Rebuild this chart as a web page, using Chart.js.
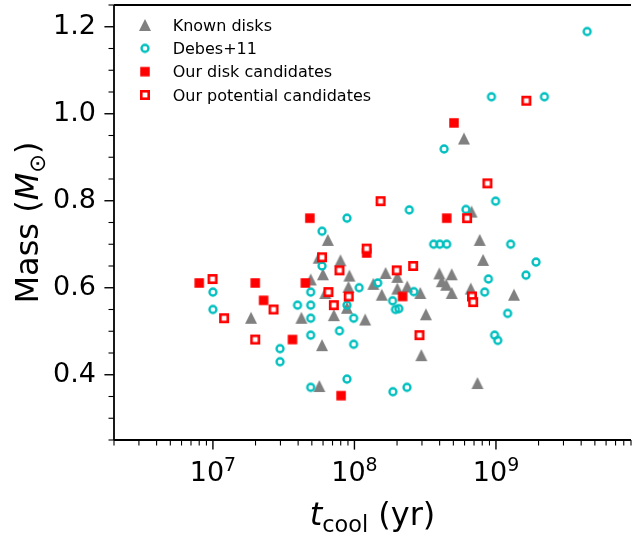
<!DOCTYPE html>
<html>
<head>
<meta charset="utf-8">
<script src="https://cdn.jsdelivr.net/npm/chart.js@4.4.1/dist/chart.umd.min.js"></script>
<style>
  html, body { margin: 0; padding: 0; background: #fff; overflow: hidden; }
  #wrap { width: 632px; height: 533px; overflow: hidden; }
</style>
</head>
<body>
<div id="wrap"><canvas id="massChart" width="636" height="533"></canvas></div>
<script>
// Cooling age (yr) and white dwarf mass (Msun)
const knownTcool = [1.86e7, 4.22e7, 4.91e7, 5.59e7, 5.99e7, 6.22e7, 5.90e7, 5.65e7, 6.49e7, 7.15e7,
  7.97e7, 9.21e7, 9.07e7, 8.86e7, 1.19e8, 1.36e8, 1.56e8, 1.66e8, 2.01e8, 2.01e8,
  2.36e8, 2.92e8, 3.20e8, 2.97e8, 3.98e8, 4.87e8, 4.14e8, 4.45e8, 4.87e8, 6.64e8,
  6.72e8, 7.68e8, 8.11e8, 5.94e8, 7.40e8, 1.34e9];
const knownMass = [0.531, 0.531, 0.619, 0.669, 0.631, 0.588, 0.468, 0.374, 0.710, 0.537,
  0.663, 0.628, 0.602, 0.554, 0.527, 0.609, 0.584, 0.634, 0.625, 0.598,
  0.603, 0.588, 0.539, 0.445, 0.633, 0.631, 0.615, 0.607, 0.588, 0.598,
  0.775, 0.710, 0.664, 0.943, 0.381, 0.584];

const debesTcool = [1.00e7, 1.00e7, 2.98e7, 2.98e7, 3.96e7, 4.91e7, 4.91e7, 4.91e7, 4.91e7, 4.91e7,
  5.90e7, 5.90e7, 7.84e7, 8.86e7, 8.86e7, 8.86e7, 9.87e7, 9.87e7, 1.08e8, 1.46e8,
  1.86e8, 1.95e8, 2.06e8, 1.87e8, 2.35e8, 2.44e8, 2.63e8, 3.63e8, 4.01e8, 4.49e8,
  4.30e8, 6.13e8, 9.94e8, 9.30e8, 2.20e9, 4.41e9, 1.27e9, 1.92e9, 1.63e9, 8.84e8,
  8.32e8, 1.21e9, 9.78e8, 1.03e9];
const debesMass = [0.590, 0.550, 0.460, 0.430, 0.560, 0.590, 0.560, 0.530, 0.491, 0.371,
  0.730, 0.650, 0.501, 0.760, 0.560, 0.390, 0.530, 0.470, 0.600, 0.611,
  0.570, 0.550, 0.552, 0.361, 0.371, 0.779, 0.591, 0.700, 0.700, 0.700,
  0.919, 0.780, 0.799, 1.039, 1.039, 1.189, 0.700, 0.659, 0.629, 0.620,
  0.590, 0.541, 0.491, 0.479];

const candTcool = [8.0e6, 1.99e7, 2.28e7, 3.65e7, 4.50e7, 4.84e7, 1.22e8, 8.05e7, 2.19e8, 4.49e8, 5.05e8];
const candMass = [0.611, 0.611, 0.571, 0.481, 0.611, 0.760, 0.680, 0.352, 0.580, 0.760, 0.979];

const potTcool = [9.94e6, 1.20e7, 1.99e7, 2.68e7, 5.90e7, 6.55e7, 7.15e7, 7.84e7, 9.11e7, 1.22e8,
  1.53e8, 1.99e8, 2.60e8, 2.88e8, 6.25e8, 6.77e8, 6.90e8, 8.70e8, 1.64e9];
const potMass = [0.620, 0.530, 0.481, 0.550, 0.670, 0.590, 0.560, 0.640, 0.580, 0.690,
  0.799, 0.640, 0.650, 0.491, 0.760, 0.580, 0.567, 0.840, 1.030];

// Axis ticks
const xMajorTicks = [1e7, 1e8, 1e9];
const xTickExponents = ["7", "8", "9"];
const yTicks = [0.4, 0.6, 0.8, 1.0, 1.2];
const yTickLabels = ["0.4", "0.6", "0.8", "1.0", "1.2"];

const FONT = '"DejaVu Sans", sans-serif';
const TICK_SIZE = 27;
const TITLE_SIZE = 32;
const MAJOR_LEN = 9.6;
const MINOR_LEN = 5.5;

// matplotlib-like marker glyphs, used for the points and the legend
function makeMarker(size, draw) {
  const c = document.createElement('canvas');
  c.width = size; c.height = size;
  draw(c.getContext('2d'), size / 2);
  return c;
}
const markers = {
  triangle: makeMarker(14, (g, m) => {
    const h = 6;
    g.fillStyle = '#808080';
    g.beginPath();
    g.moveTo(m, m - h); g.lineTo(m - h, m + h); g.lineTo(m + h, m + h);
    g.closePath(); g.fill();
  }),
  ring: makeMarker(12, (g, m) => {
    g.strokeStyle = '#00bfbf'; g.lineWidth = 2.3;
    g.beginPath(); g.arc(m, m, 3.5, 0, Math.PI * 2); g.stroke();
  }),
  square: makeMarker(12, (g, m) => {
    g.fillStyle = '#ff0000';
    g.fillRect(m - 4.75, m - 4.75, 9.5, 9.5);
  }),
  openSquare: makeMarker(12, (g, m) => {
    g.fillStyle = '#ffffff';
    g.fillRect(m - 3.7, m - 3.7, 7.4, 7.4);
    g.strokeStyle = '#ff0000'; g.lineWidth = 2.6;
    g.strokeRect(m - 3.7, m - 3.7, 7.4, 7.4);
  })
};

const toPoints = (xs, ys) => xs.map((v, i) => ({x: v, y: ys[i]}));

// ticks, spines, mathtext-style labels and the legend
const axesDecor = {
  id: 'axesDecor',
  afterDraw(chart) {
    const {ctx, chartArea: a, scales: {x, y}} = chart;
    ctx.save();
    ctx.strokeStyle = '#000';
    ctx.fillStyle = '#000';

    const seg = (x1, y1, x2, y2) => { ctx.beginPath(); ctx.moveTo(x1, y1); ctx.lineTo(x2, y2); ctx.stroke(); };

    // minor ticks
    ctx.lineWidth = 1.1;
    for (let e = 6; e <= 9; e++) {
      for (let d = 2; d <= 9; d++) {
        const v = d * Math.pow(10, e);
        if (v < x.min || v > x.max) continue;
        const p = x.getPixelForValue(v);
        seg(p, a.bottom, p, a.bottom + MINOR_LEN);
      }
    }
    for (let i = 5; i <= 25; i++) {
      if (i % 4 === 0) continue;
      const p = y.getPixelForValue(i / 20);
      seg(a.left, p, a.left - MINOR_LEN, p);
    }
    // major ticks
    ctx.lineWidth = 1.4;
    xMajorTicks.forEach(v => { const p = x.getPixelForValue(v); seg(p, a.bottom, p, a.bottom + MAJOR_LEN); });
    yTicks.forEach(v => { const p = y.getPixelForValue(v); seg(a.left, p, a.left - MAJOR_LEN, p); });

    // spines (right one falls outside the picture)
    ctx.lineWidth = 1.8;
    seg(a.left, a.top, a.right, a.top);
    seg(a.left, a.top, a.left, a.bottom);
    seg(a.left, a.bottom, a.right, a.bottom);

    // x tick labels as 10^n
    ctx.textBaseline = 'alphabetic';
    ctx.textAlign = 'left';
    xMajorTicks.forEach((v, i) => {
      const p = x.getPixelForValue(v);
      ctx.font = `${TICK_SIZE}px ${FONT}`;
      const wBase = ctx.measureText('10').width;
      ctx.font = `${TICK_SIZE * 0.7}px ${FONT}`;
      const wExp = ctx.measureText(xTickExponents[i]).width;
      const left = p - (wBase + wExp) / 2;
      const base = 480.5;
      ctx.font = `${TICK_SIZE}px ${FONT}`;
      ctx.fillText('10', left, base);
      ctx.font = `${TICK_SIZE * 0.7}px ${FONT}`;
      ctx.fillText(xTickExponents[i], left + wBase, base - 9.6);
    });

    // rich text helper: pieces of [text, font, dy]
    const drawPieces = (pieces, cx, baseY) => {
      let total = 0;
      pieces.forEach(pc => { ctx.font = pc[1]; total += ctx.measureText(pc[0]).width; });
      let cur = cx - total / 2;
      pieces.forEach(pc => {
        ctx.font = pc[1];
        ctx.fillText(pc[0], cur, baseY + pc[2]);
        cur += ctx.measureText(pc[0]).width;
      });
    };
    const big = `${TITLE_SIZE}px ${FONT}`;
    const bigIt = `italic ${TITLE_SIZE}px ${FONT}`;
    const sub = `${TITLE_SIZE * 0.7}px ${FONT}`;

    drawPieces([['t', bigIt, 0], ['cool', sub, 6.5], [' (yr)', big, 0]], (a.left + a.right) / 2, 525);

    ctx.save();
    ctx.translate(38, (a.top + a.bottom) / 2);
    ctx.rotate(-Math.PI / 2);
    drawPieces([['Mass (', big, 0], ['M', bigIt, 0], ['\u2299', sub, 6.5], [')', big, 0]], 0, 0);
    ctx.restore();

    // legend
    ctx.font = `16px ${FONT}`;
    chart.data.datasets.forEach((ds, i) => {
      const cy = 25 + i * 23.33;
      const img = ds.pointStyle;
      ctx.drawImage(img, 145 - img.width / 2, cy - img.height / 2);
      ctx.fillText(ds.label, 172.7, cy + 5.8);
    });

    ctx.restore();
  }
};

const config = {
  type: 'scatter',
  data: {
    datasets: [
      { label: "Known disks", data: toPoints(knownTcool, knownMass), pointStyle: markers.triangle, order: 4 },
      { label: "Debes+11", data: toPoints(debesTcool, debesMass), pointStyle: markers.ring, order: 3 },
      { label: "Our disk candidates", data: toPoints(candTcool, candMass), pointStyle: markers.square, order: 2 },
      { label: "Our potential candidates", data: toPoints(potTcool, potMass), pointStyle: markers.openSquare, order: 1 }
    ]
  },
  options: {
    responsive: false,
    animation: false,
    devicePixelRatio: 1,
    events: [],
    layout: { padding: { top: 4, left: 0, right: 0, bottom: 0 } },
    scales: {
      x: {
        type: 'logarithmic',
        min: 2e6,
        max: 9e9,
        grid: { display: false, drawTicks: false },
        border: { display: false },
        ticks: { display: false },
        afterFit: scale => { scale.height = 93; scale.paddingLeft = 0; scale.paddingRight = 0; }
      },
      y: {
        min: 0.25,
        max: 1.25,
        grid: { display: false, drawTicks: false },
        border: { display: false },
        afterBuildTicks: scale => { scale.ticks = yTicks.map(v => ({value: v})); },
        ticks: {
          color: '#000',
          padding: 18,
          font: { family: '"DejaVu Sans"', size: TICK_SIZE },
          callback: (value, idx) => yTickLabels[idx]
        },
        afterFit: scale => { scale.width = 114; scale.paddingTop = 0; scale.paddingBottom = 0; }
      }
    },
    plugins: {
      legend: { display: false },
      tooltip: { enabled: false }
    }
  },
  plugins: [axesDecor]
};

new Chart(document.getElementById('massChart'), config);
</script>
</body>
</html>
